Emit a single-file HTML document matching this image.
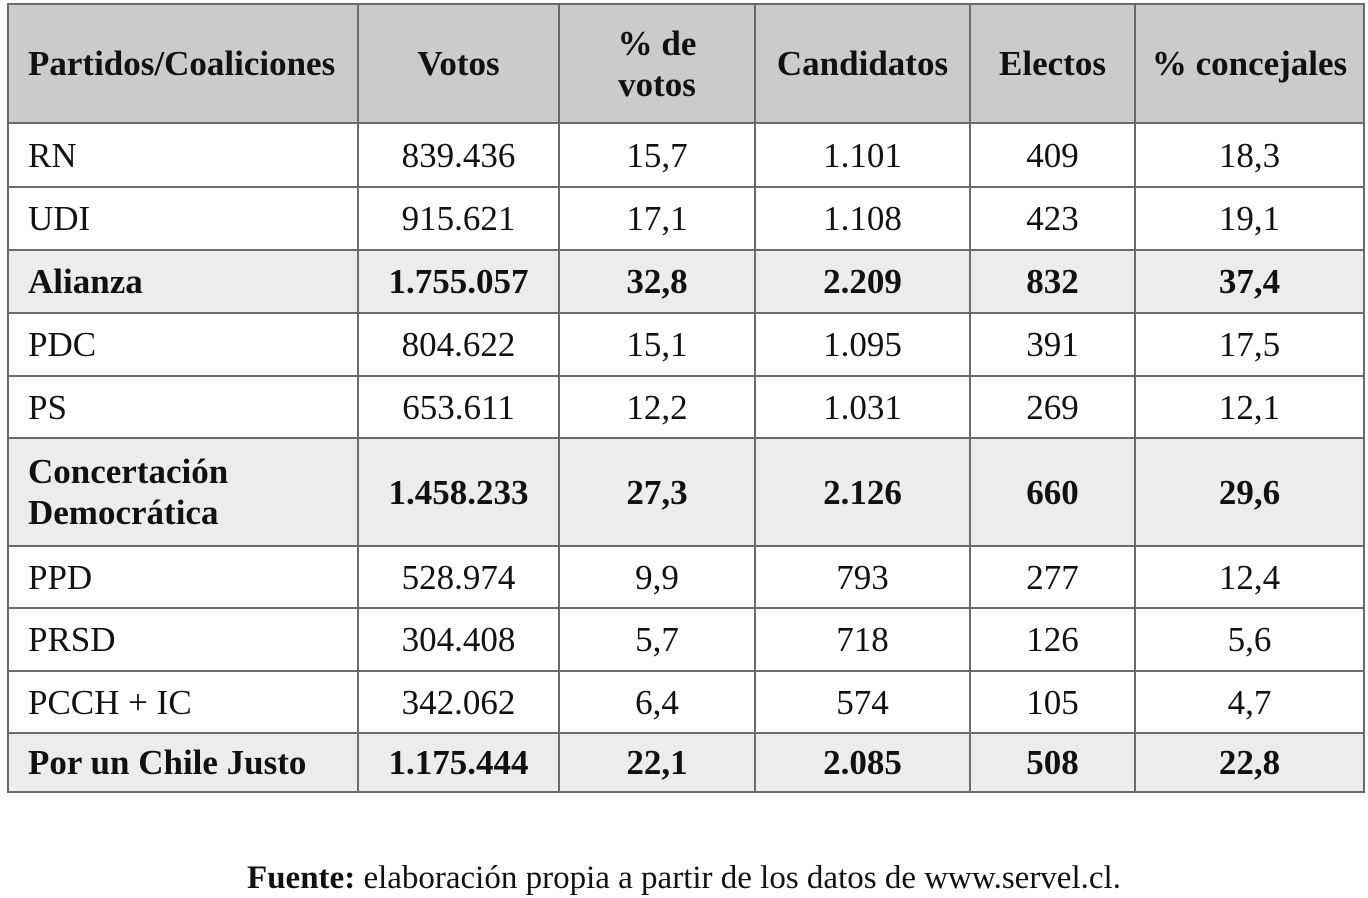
<!DOCTYPE html>
<html><head><meta charset="utf-8"><style>
body{margin:0;width:1368px;height:896px;background:#fff;position:relative;font-family:"Liberation Serif",serif;color:#111;overflow:hidden}
table{position:absolute;left:7px;top:3px;border-collapse:collapse;table-layout:fixed}
td{border:2px solid #6a6a6a;font-size:35px;text-align:center;padding:0;line-height:41px;white-space:nowrap}
td:first-child{text-align:left;padding-left:19px}
tr.h td{background:#cbcbcb;font-weight:bold;height:117px}
tr.b td{background:#ececec;font-weight:bold}
.f{position:absolute;top:858px;left:0;width:1368px;text-align:center;font-size:33px;line-height:40px}
</style></head><body>
<table>
<colgroup><col style="width:350px"><col style="width:201px"><col style="width:196px"><col style="width:215px"><col style="width:165px"><col style="width:229px"></colgroup>
<tr class="h"><td>Partidos/Coaliciones</td><td>Votos</td><td>% de<br>votos</td><td>Candidatos</td><td>Electos</td><td>% concejales</td></tr>
<tr style="height:64px"><td>RN</td><td>839.436</td><td>15,7</td><td>1.101</td><td>409</td><td>18,3</td></tr>
<tr style="height:63px"><td>UDI</td><td>915.621</td><td>17,1</td><td>1.108</td><td>423</td><td>19,1</td></tr>
<tr class="b" style="height:63px"><td>Alianza</td><td>1.755.057</td><td>32,8</td><td>2.209</td><td>832</td><td>37,4</td></tr>
<tr style="height:63px"><td>PDC</td><td>804.622</td><td>15,1</td><td>1.095</td><td>391</td><td>17,5</td></tr>
<tr style="height:62px"><td>PS</td><td>653.611</td><td>12,2</td><td>1.031</td><td>269</td><td>12,1</td></tr>
<tr class="b" style="height:108px"><td>Concertación<br>Democrática</td><td>1.458.233</td><td>27,3</td><td>2.126</td><td>660</td><td>29,6</td></tr>
<tr style="height:62px"><td>PPD</td><td>528.974</td><td>9,9</td><td>793</td><td>277</td><td>12,4</td></tr>
<tr style="height:63px"><td>PRSD</td><td>304.408</td><td>5,7</td><td>718</td><td>126</td><td>5,6</td></tr>
<tr style="height:62px"><td>PCCH + IC</td><td>342.062</td><td>6,4</td><td>574</td><td>105</td><td>4,7</td></tr>
<tr class="b" style="height:59px"><td>Por un Chile Justo</td><td>1.175.444</td><td>22,1</td><td>2.085</td><td>508</td><td>22,8</td></tr>
</table>
<div class="f"><b>Fuente:</b> elaboración propia a partir de los datos de www.servel.cl.</div>
</body></html>
